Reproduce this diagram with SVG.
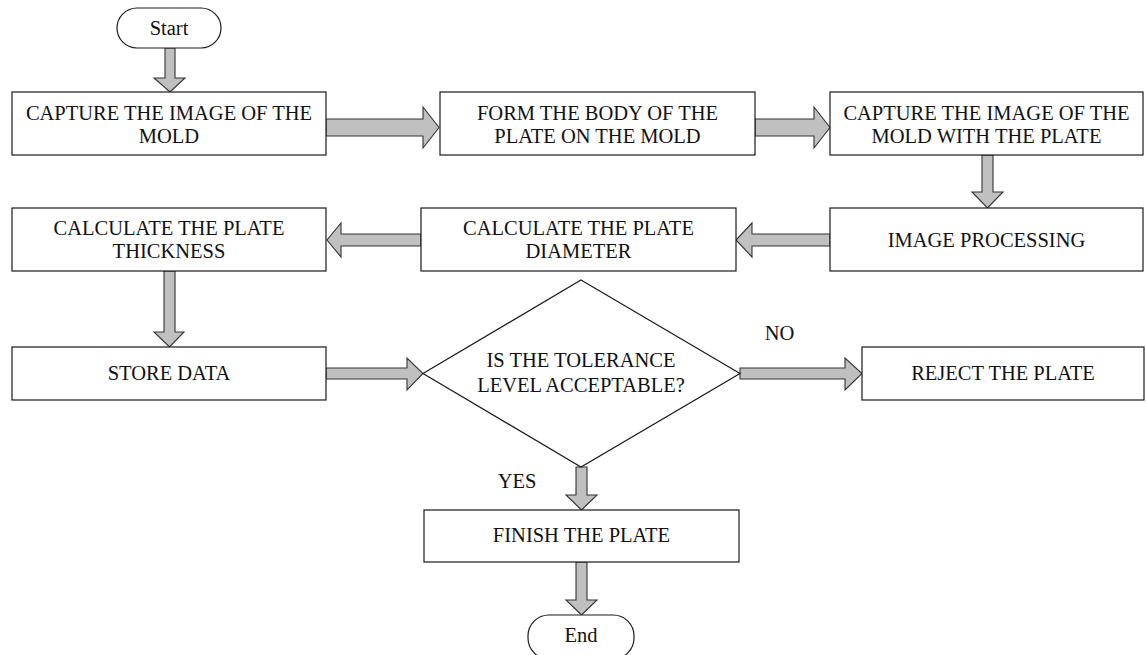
<svg xmlns="http://www.w3.org/2000/svg" width="1146" height="655" viewBox="0 0 1146 655">
<style>
.box{fill:#fff;stroke:#1a1a1a;stroke-width:1.2}
.arr{fill:#c0c0c0;stroke:#333;stroke-width:1.1;stroke-linejoin:miter}
text{font-family:"Liberation Serif","Times New Roman",serif;font-size:20.5px;fill:#111;text-anchor:middle}
</style>
<rect width="1146" height="655" fill="#fff"/>
<g id="connectors">
<polygon class="arr" points="165,48 175,48 175,78 185,78 170,92 154,78 165,78"/>
<polygon class="arr" points="326,119 423,119 423,107 439,127.5 423,148 423,136 326,136"/>
<polygon class="arr" points="755,119 814,119 814,107 830,127.5 814,148 814,136 755,136"/>
<polygon class="arr" points="982,155 993,155 993,192 1003,192 987.5,208 972,192 982,192"/>
<polygon class="arr" points="830,234 752,234 752,223 736,240 752,257 752,246 830,246"/>
<polygon class="arr" points="421,234 341,234 341,223 327,240 341,257 341,246 421,246"/>
<polygon class="arr" points="164,271 175,271 175,332 184,332 169.5,347 154,332 164,332"/>
<polygon class="arr" points="326,368 407,368 407,358 423,373.5 407,390 407,379 326,379"/>
<polygon class="arr" points="740,368 845,368 845,358 862,373.5 845,390 845,379 740,379"/>
<polygon class="arr" points="576,467 587,467 587,495 597,495 581.5,510 566,495 576,495"/>
<polygon class="arr" points="576,562 587,562 587,600 597,600 581.5,615 566,600 576,600"/>
</g>
<g id="start"><rect class="box" x="117" y="8" width="104" height="40" rx="20"/><text x="169" y="35">Start</text></g>
<g id="capture-mold"><rect class="box" x="12" y="92" width="314" height="63"/><text x="169" y="120">CAPTURE THE IMAGE OF THE</text><text x="169" y="143">MOLD</text></g>
<g id="form-body"><rect class="box" x="440" y="92" width="315" height="63"/><text x="597.5" y="120">FORM THE BODY OF THE</text><text x="597.5" y="143">PLATE ON THE MOLD</text></g>
<g id="capture-mold-plate"><rect class="box" x="830" y="92" width="313" height="63"/><text x="986.5" y="120">CAPTURE THE IMAGE OF THE</text><text x="986.5" y="143">MOLD WITH THE PLATE</text></g>
<g id="image-processing"><rect class="box" x="830" y="208" width="313" height="63"/><text x="986.5" y="247">IMAGE PROCESSING</text></g>
<g id="calc-diameter"><rect class="box" x="421" y="208" width="315" height="63"/><text x="578.5" y="235">CALCULATE THE PLATE</text><text x="578.5" y="258">DIAMETER</text></g>
<g id="calc-thickness"><rect class="box" x="12" y="208" width="314" height="63"/><text x="169" y="235">CALCULATE THE PLATE</text><text x="169" y="258">THICKNESS</text></g>
<g id="store-data"><rect class="box" x="12" y="347" width="314" height="53"/><text x="169" y="380">STORE DATA</text></g>
<g id="decision"><polygon class="box" points="581,280 740,373.5 581,467 423,373.5"/><text x="581" y="367">IS THE TOLERANCE</text><text x="581" y="392">LEVEL ACCEPTABLE?</text></g>
<g id="label-no"><text x="779.5" y="340">NO</text></g>
<g id="reject"><rect class="box" x="862" y="347" width="282" height="53"/><text x="1003" y="380">REJECT THE PLATE</text></g>
<g id="label-yes"><text x="517" y="488">YES</text></g>
<g id="finish"><rect class="box" x="424" y="510" width="315" height="52"/><text x="581.5" y="542">FINISH THE PLATE</text></g>
<g id="end"><rect class="box" x="528" y="615" width="106" height="44" rx="21"/><text x="581" y="642">End</text></g>
</svg>
